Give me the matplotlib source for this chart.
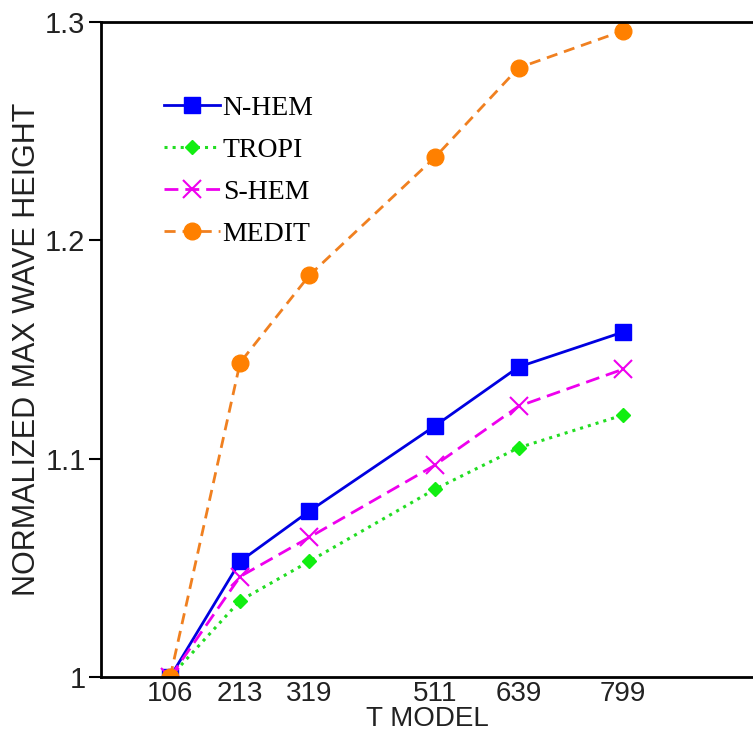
import numpy as np
from matplotlib import pyplot as plt

# T model resolutions and normalized max wave heights
t_model = [106, 213, 319, 511, 639, 799]
n_hem = [1.0, 1.053, 1.076, 1.115, 1.142, 1.158]
tropi = [1.0, 1.035, 1.053, 1.086, 1.105, 1.120]
s_hem = [1.0, 1.046, 1.064, 1.097, 1.124, 1.141]
medit = [1.0, 1.144, 1.184, 1.238, 1.279, 1.296]
y_ticks = [1.0, 1.1, 1.2, 1.3]

fig = plt.figure(figsize=(7.53, 7.37), dpi=100)
ax = fig.add_axes([0.134, 0.0814, 0.868, 0.8887])

ax.plot(t_model, n_hem, '-', color='#0000e0', lw=2, marker='s', ms=12,
        mfc='#0000ff', mec='#0000ff', label='N-HEM')
ax.plot(t_model, tropi, ':', color='#22dd22', lw=2.2, marker='D', ms=7,
        mfc='#11ee11', mec='#11ee11', label='TROPI')
ax.plot(t_model, s_hem, '--', color='#ee00ee', lw=2, marker='x', ms=13,
        mew=1.5, label='S-HEM', dashes=(5, 2.5))
ax.plot(t_model, medit, '--', color='#f08020', lw=2, marker='o', ms=12,
        mfc='#ff8000', mec='#ff8000', label='MEDIT', dashes=(4, 2.5))

ax.set_xlim(0, 1000)
ax.set_ylim(1.0, 1.3)
ax.set_xticks(t_model)
ax.set_xticklabels([str(t) for t in t_model])
ax.set_yticks(y_ticks)
ax.set_yticklabels(['%g' % v for v in y_ticks])

ax.tick_params(axis='x', length=0, pad=3, labelsize=20, colors='#222222')
ax.tick_params(axis='y', length=9, width=1.5, pad=2, labelsize=21, colors='#222222')
ax.tick_params(axis='y', color='black')

for side in ['left', 'bottom', 'top']:
    ax.spines[side].set_linewidth(2)
ax.spines['right'].set_visible(False)

ax.set_xlabel('T MODEL', fontsize=20, labelpad=-1, color='#222222')
ax.set_ylabel('NORMALIZED MAX WAVE HEIGHT', fontsize=22, labelpad=2, color='#222222')

for lbl in ax.get_xticklabels() + ax.get_yticklabels():
    lbl.set_family('Liberation Sans')
ax.xaxis.label.set_family('Liberation Sans')
ax.yaxis.label.set_family('Liberation Sans')

leg = ax.legend(loc='upper left', bbox_to_anchor=(0.08, 0.905), frameon=False,
                prop={'family': 'Liberation Serif', 'size': 20},
                handlelength=2.0, handletextpad=0.1, labelspacing=0.6,
                borderaxespad=0)

fig.savefig('out.png')
